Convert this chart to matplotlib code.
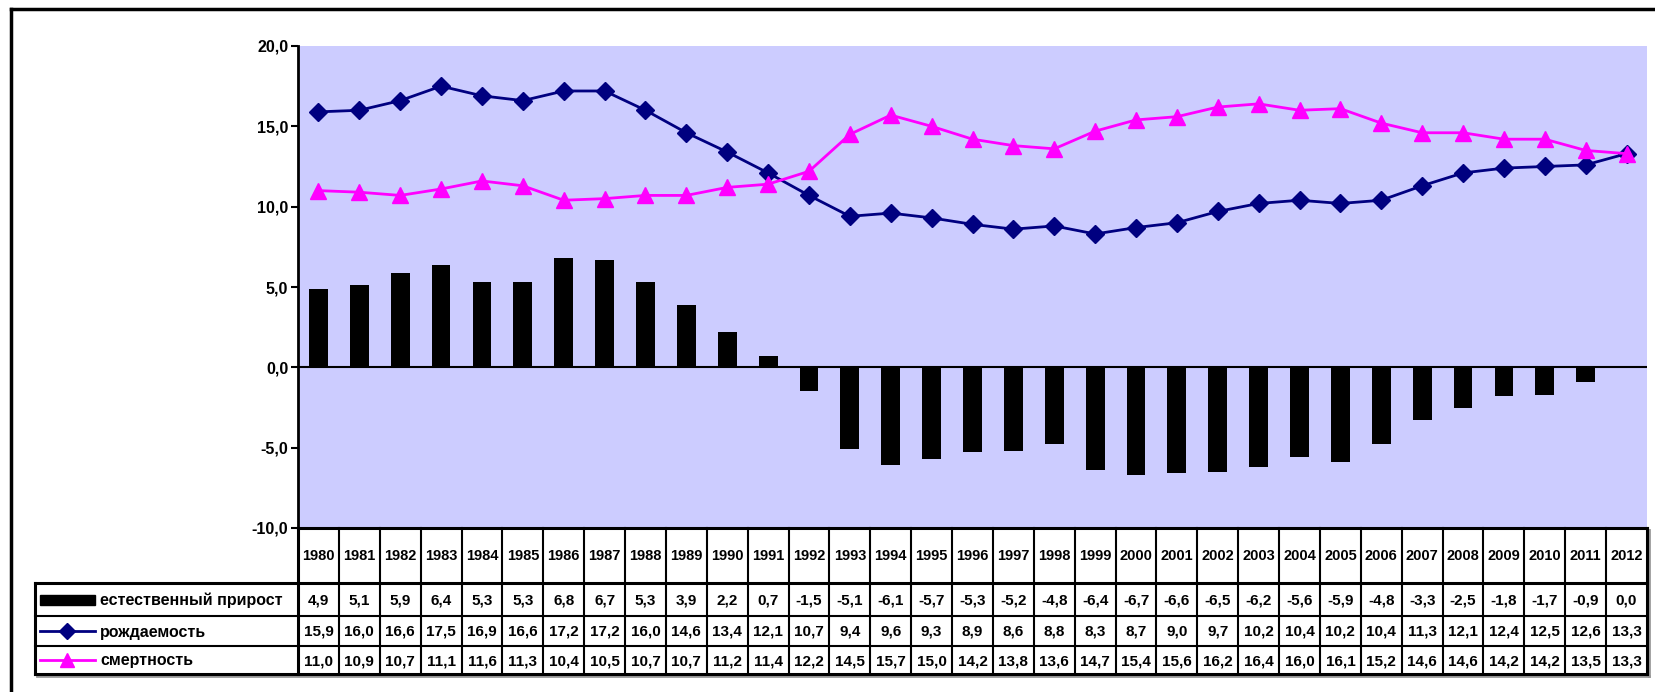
import numpy as np
import matplotlib.pyplot as plt
from matplotlib.lines import Line2D
from matplotlib.patches import Rectangle

plt.rcParams['font.family'] = ['Liberation Sans', 'DejaVu Sans']

years = list(range(1980, 2013))
natural_growth = [4.9, 5.1, 5.9, 6.4, 5.3, 5.3, 6.8, 6.7, 5.3, 3.9, 2.2, 0.7, -1.5,
                  -5.1, -6.1, -5.7, -5.3, -5.2, -4.8, -6.4, -6.7, -6.6, -6.5, -6.2,
                  -5.6, -5.9, -4.8, -3.3, -2.5, -1.8, -1.7, -0.9, 0.0]
birth_rate = [15.9, 16.0, 16.6, 17.5, 16.9, 16.6, 17.2, 17.2, 16.0, 14.6, 13.4, 12.1, 10.7,
              9.4, 9.6, 9.3, 8.9, 8.6, 8.8, 8.3, 8.7, 9.0, 9.7, 10.2,
              10.4, 10.2, 10.4, 11.3, 12.1, 12.4, 12.5, 12.6, 13.3]
death_rate = [11.0, 10.9, 10.7, 11.1, 11.6, 11.3, 10.4, 10.5, 10.7, 10.7, 11.2, 11.4, 12.2,
              14.5, 15.7, 15.0, 14.2, 13.8, 13.6, 14.7, 15.4, 15.6, 16.2, 16.4,
              16.0, 16.1, 15.2, 14.6, 14.6, 14.2, 14.2, 13.5, 13.3]
series_names = ['естественный прирост', 'рождаемость', 'смертность']

W, H = 1655, 692
fig = plt.figure(figsize=(W / 100, H / 100), dpi=100)

def fx(px):
    return px / W

def fy(py):
    return 1 - py / H

navy = '#000080'
magenta = '#FF00FF'
n = len(years)
x = np.arange(n)

# --- chart area
left, right, top, bottom = 298, 1647, 46, 528
ax = fig.add_axes([fx(left), fy(bottom), fx(right - left), (bottom - top) / H])
ax.set_facecolor('#CCCCFF')
ax.bar(x, natural_growth, width=0.46, color='black', zorder=2)
ax.axhline(0, color='black', lw=1.5, zorder=3)
ax.plot(x, birth_rate, color=navy, lw=2, marker='D', ms=9, zorder=4)
ax.plot(x, death_rate, color=magenta, lw=2, marker='^', ms=12, zorder=4)
ax.set_xlim(-0.5, n - 0.5)
ax.set_ylim(-10, 20)
ax.set_yticks(np.arange(-10, 21, 5))
ax.set_yticklabels([f'{v:.1f}'.replace('.', ',') for v in np.arange(-10, 21, 5)],
                   fontsize=11.5, fontweight='bold')
ax.tick_params(axis='y', direction='out', length=5, width=1.5, pad=2)
ax.set_xticks([])
for s in ['top', 'right', 'bottom']:
    ax.spines[s].set_visible(False)
ax.spines['left'].set_linewidth(2)

# --- data table
tleft, ttop = 35, 528
row_edges = [0, 55, 88, 118, 146]
cw = (right - left) / n
lab_w = (left - tleft) / cw
tab = fig.add_axes([fx(tleft), fy(ttop + row_edges[-1]), fx(right - tleft), row_edges[-1] / H])
tab.set_xlim(-0.5 - lab_w, n - 0.5)
tab.set_ylim(row_edges[-1], 0)
tab.axis('off')

lw_in, lw_out = 1.5, 2.2
# shadow
tab.plot([-0.5 - lab_w + 0.05, n - 0.5 + 0.05], [row_edges[-1] + 1.5] * 2, color='#999999', lw=2,
         clip_on=False)
tab.plot([n - 0.5 + 0.06] * 2, [1.5, row_edges[-1] + 1.5], color='#999999', lw=2, clip_on=False)
# year row verticals
for i in range(n + 1):
    tab.plot([i - 0.5] * 2, [0, row_edges[-1]], color='black',
             lw=lw_out if i in (0, n) else lw_in, clip_on=False)
tab.plot([-0.5, n - 0.5], [0, 0], color='black', lw=lw_out, clip_on=False)
# horizontal lines across label column
for k, yv in enumerate(row_edges[1:]):
    tab.plot([-0.5 - lab_w, n - 0.5], [yv, yv], color='black',
             lw=lw_out if k in (0, 3) else lw_in, clip_on=False)
tab.plot([-0.5 - lab_w] * 2, [row_edges[1], row_edges[-1]], color='black', lw=lw_out,
         clip_on=False)

for i, yr in enumerate(years):
    tab.text(i, (row_edges[0] + row_edges[1]) / 2, str(yr), ha='center', va='center',
             fontsize=10.5, fontweight='bold')

rows = [natural_growth, birth_rate, death_rate]
for r, vals in enumerate(rows):
    yc = (row_edges[r + 1] + row_edges[r + 2]) / 2
    for i, v in enumerate(vals):
        tab.text(i, yc + 1, f'{v:.1f}'.replace('.', ','), ha='center', va='center',
                 fontsize=11, fontweight='bold')
    tab.text(-0.5 - lab_w + 65 / cw, yc + 1, series_names[r], ha='left', va='center',
             fontsize=11.5, fontweight='bold')

# legend keys
k0 = -0.5 - lab_w + 5 / cw
k1 = -0.5 - lab_w + 60 / cw
yc0 = (row_edges[1] + row_edges[2]) / 2
tab.add_patch(Rectangle((k0, yc0 - 5), k1 - k0, 10, color='black'))
yc1 = (row_edges[2] + row_edges[3]) / 2
tab.plot([k0, k1], [yc1, yc1], color=navy, lw=2)
tab.plot([(k0 + k1) / 2], [yc1], color=navy, marker='D', ms=8)
yc2 = (row_edges[3] + row_edges[4]) / 2
tab.plot([k0, k1], [yc2, yc2], color=magenta, lw=2)
tab.plot([(k0 + k1) / 2], [yc2], color=magenta, marker='^', ms=10)

# outer chart border (left and top visible)
fig.add_artist(Line2D([fx(11), 1.0], [fy(9), fy(9)], color='black', lw=2.5))
fig.add_artist(Line2D([fx(11), fx(11)], [fy(9), 0.0], color='black', lw=2.5))

fig.savefig('out.png', dpi=100)
